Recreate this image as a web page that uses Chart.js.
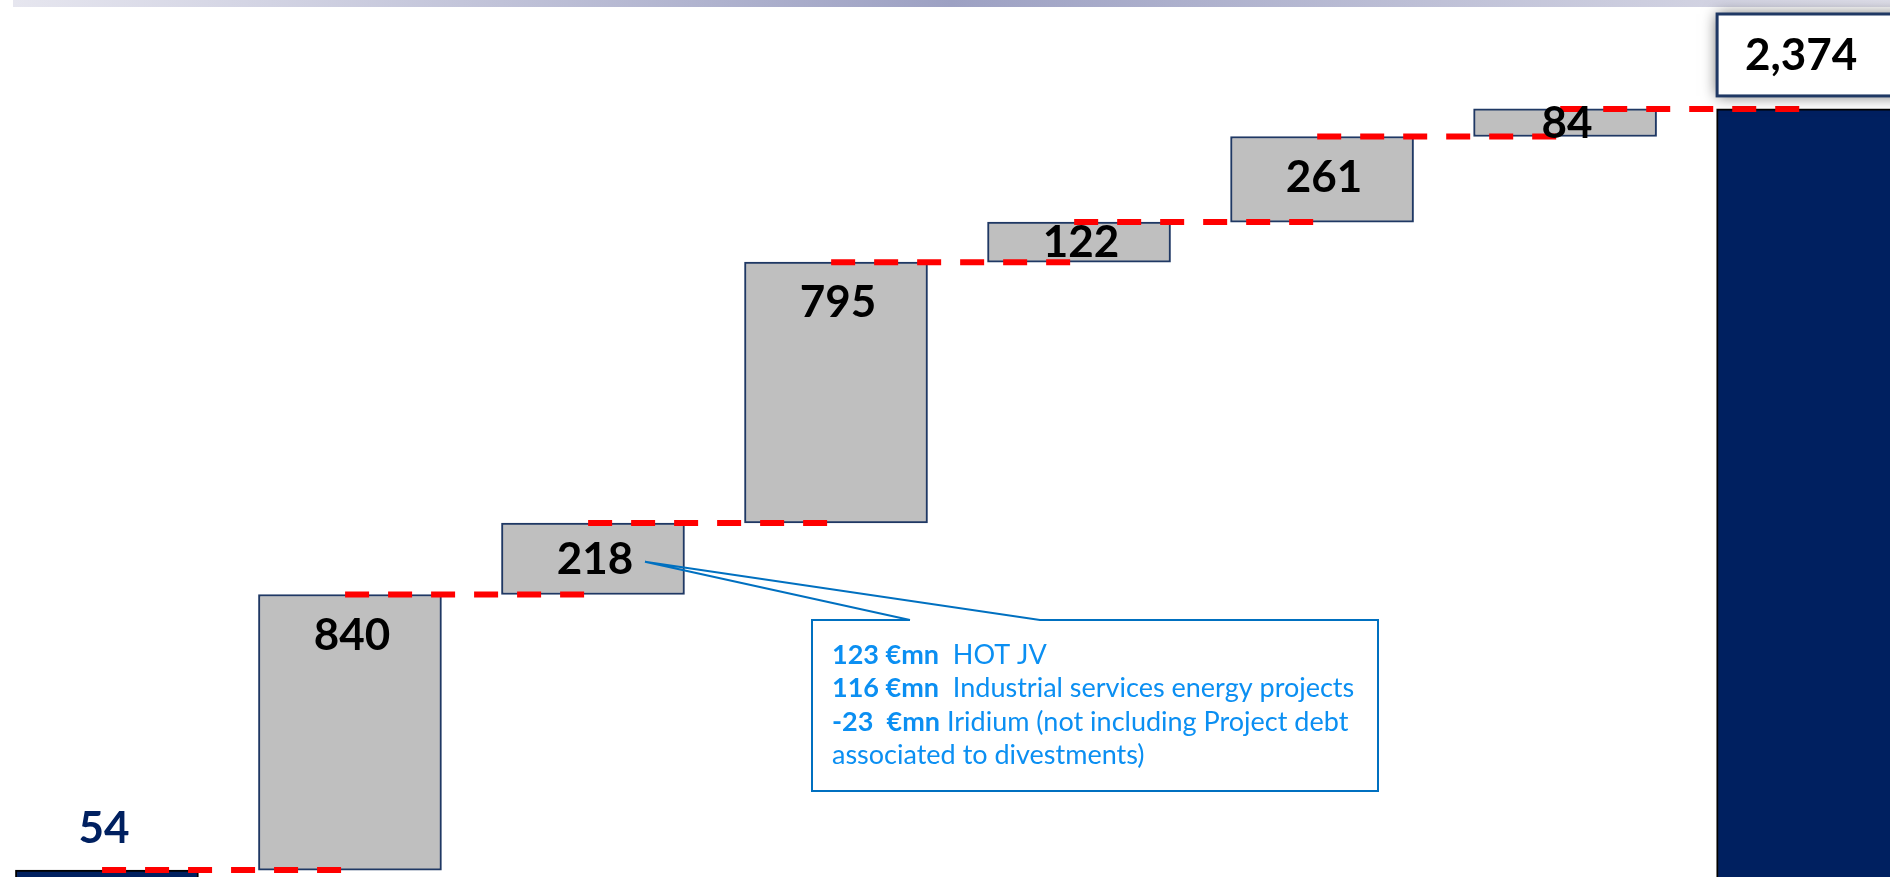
<!DOCTYPE html>
<html>
<head>
<meta charset="utf-8">
<script src="https://cdn.jsdelivr.net/npm/chart.js@4.4.1/dist/chart.umd.min.js"></script>
<style>
  html, body { margin: 0; padding: 0; background: #fff; }
  #wrap { position: relative; width: 1890px; height: 877px; }
</style>
</head>
<body>
<div id="wrap"><canvas id="bridgeChart"></canvas></div>
<script>
// waterfall data
const categories = ['Opening', 'Step 1', 'Step 2', 'Step 3', 'Step 4', 'Step 5', 'Step 6', 'Closing'];
const deltas = [54, 840, 218, 795, 122, 261, 84];
const closingTotal = 2374;
const valueLabels = ['54', '840', '218', '795', '122', '261', '84', '2,374'];

// callout for the 218 step
const noteAmounts = ['123 €mn', '116 €mn', '-23  €mn', ''];
const noteTexts = ['  HOT JV', '  Industrial services energy projects', ' Iridium (not including Project debt', 'associated to divestments)'];

document.addEventListener('DOMContentLoaded', function() {
    const ctx = document.getElementById('bridgeChart').getContext('2d');

    let running = 0;
    const barData = deltas.map(function(d, i) {
        const lo = i === 0 ? 0 : running;
        running += d;
        return { x: i, y: [lo, running] };
    });
    barData.push({ x: deltas.length, y: [0, closingTotal] });

    const lastIdx = barData.length - 1;
    const fills = barData.map((_, i) => (i === 0 || i === lastIdx) ? '#002060' : '#bfbfbf');
    const edges = barData.map((_, i) => (i === 0 || i === lastIdx) ? '#000000' : '#1f3864');

    // dashed connectors at each running level
    const connectors = deltas.map(function(_, i) {
        const level = barData[i].y[1];
        return {
            type: 'line',
            data: [{ x: i - 0.02, y: level }, { x: i + 0.98, y: level }],
            borderColor: '#ff0000',
            borderWidth: 6,
            borderDash: [24, 19],
            borderCapStyle: 'butt',
            pointRadius: 0,
            fill: false,
            order: 0
        };
    });

    const topBand = {
        id: 'topBand',
        beforeDraw(chart) {
            const c = chart.ctx;
            const g = c.createLinearGradient(13, 0, 1890, 0);
            g.addColorStop(0, '#e6e6ef');
            g.addColorStop(0.5, '#9da1c3');
            g.addColorStop(1, '#dedee9');
            c.save();
            c.fillStyle = g;
            c.fillRect(13, 0, 1877, 7);
            c.restore();
        }
    };

    const barLabels = {
        id: 'barLabels',
        afterDatasetsDraw(chart) {
            const c = chart.ctx;
            const meta = chart.getDatasetMeta(0);
            c.save();
            c.textAlign = 'center';
            c.textBaseline = 'middle';
            c.font = 'bold 44px Lato';
            meta.data.forEach(function(el, i) {
                const top = Math.min(el.y, el.base);
                const bottom = Math.max(el.y, el.base);
                if (i === 0) {
                    c.fillStyle = '#002060';
                    c.fillText(valueLabels[i], el.x - 3, top - 41);
                } else if (i === lastIdx) {
                    const bx = el.x - 91, by = 14, bw = 200, bh = top - 13 - by;
                    c.save();
                    c.shadowColor = 'rgba(0,0,0,0.6)';
                    c.shadowBlur = 14;
                    c.fillStyle = '#ffffff';
                    c.fillRect(bx, by, bw, bh);
                    c.restore();
                    c.lineWidth = 3;
                    c.strokeStyle = '#1f3864';
                    c.strokeRect(bx, by, bw, bh);
                    c.fillStyle = '#000000';
                    c.fillText(valueLabels[i], bx + 84, by + bh / 2 + 1);
                } else {
                    c.fillStyle = '#000000';
                    c.fillText(valueLabels[i], el.x + 2, Math.min(top + 41, (top + bottom) / 2 + 1));
                }
            });
            c.restore();
        }
    };

    const callout = {
        id: 'callout',
        afterDraw(chart) {
            const c = chart.ctx;
            const el = chart.getDatasetMeta(0).data[2];
            const tipX = el.x + 52, tipY = (el.y + el.base) / 2 + 3;
            const bx = 812, by = 620, bw = 566, bh = 171;
            c.save();
            c.fillStyle = '#ffffff';
            c.fillRect(bx, by, bw, bh);
            c.strokeStyle = '#0070c0';
            c.lineWidth = 2;
            c.beginPath();
            c.moveTo(910, by);
            c.lineTo(bx, by);
            c.lineTo(bx, by + bh);
            c.lineTo(bx + bw, by + bh);
            c.lineTo(bx + bw, by);
            c.lineTo(1040, by);
            c.lineTo(tipX, tipY);
            c.lineTo(910, by);
            c.stroke();
            c.textBaseline = 'middle';
            c.textAlign = 'left';
            noteTexts.forEach(function(t, i) {
                const y = 655 + i * 33.5;
                let x = 832;
                c.fillStyle = '#0b8ff2';
                if (noteAmounts[i]) {
                    c.font = 'bold 27px Lato';
                    c.fillText(noteAmounts[i], x, y);
                    x += c.measureText(noteAmounts[i]).width;
                }
                c.font = '27px Lato';
                c.fillText(t, x, y);
            });
            c.restore();
        }
    };

    new Chart(ctx, {
        type: 'bar',
        data: {
            labels: categories,
            datasets: [{
                label: 'Bridge',
                data: barData,
                backgroundColor: fills,
                borderColor: edges,
                borderWidth: 2,
                borderSkipped: false,
                barThickness: 183,
                order: 1
            }].concat(connectors)
        },
        options: {
            responsive: true,
            maintainAspectRatio: false,
            animation: false,
            layout: { padding: 0 },
            plugins: { legend: { display: false }, tooltip: { enabled: false } },
            scales: {
                x: { type: 'linear', offset: false, min: -0.44, max: 7.337, display: false },
                y: { min: 33, max: 2706, display: false }
            }
        },
        plugins: [topBand, barLabels, callout]
    });
});
</script>
</body>
</html>
